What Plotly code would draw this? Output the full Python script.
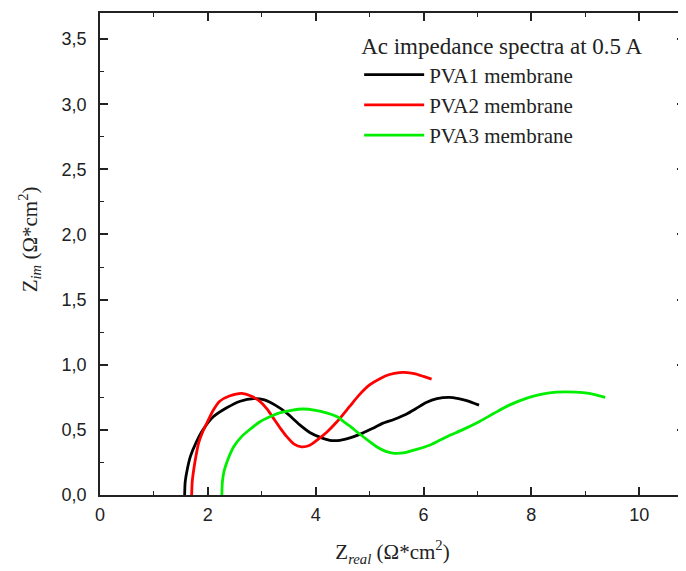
import plotly.graph_objects as go

pva1_x = [1.57, 1.58, 1.62, 1.68, 1.78, 1.91, 2.1, 2.35, 2.6, 2.85, 3.05, 3.25, 3.46, 3.7, 3.89, 4.1, 4.26, 4.45, 4.65, 4.87, 5.05, 5.24, 5.45, 5.68, 5.85, 6.05, 6.25, 6.48, 6.65, 6.8, 7.03]
pva1_y = [0, 0.1, 0.2, 0.3, 0.4, 0.5, 0.6, 0.67, 0.72, 0.74, 0.73, 0.69, 0.63, 0.54, 0.48, 0.44, 0.42, 0.42, 0.44, 0.475, 0.51, 0.55, 0.58, 0.62, 0.66, 0.71, 0.74, 0.75, 0.74, 0.725, 0.69]

pva2_x = [1.70, 1.71, 1.74, 1.78, 1.83, 1.9, 1.98, 2.1, 2.22, 2.4, 2.63, 2.8, 2.96, 3.1, 3.2, 3.35, 3.46, 3.6, 3.74, 3.88, 4.02, 4.2, 4.39, 4.63, 4.8, 5.0, 5.2, 5.37, 5.55, 5.7, 5.85, 6.0, 6.15]
pva2_y = [0, 0.1, 0.2, 0.3, 0.4, 0.48, 0.55, 0.65, 0.72, 0.76, 0.78, 0.76, 0.72, 0.66, 0.6, 0.51, 0.45, 0.39, 0.37, 0.38, 0.42, 0.48, 0.56, 0.68, 0.765, 0.845, 0.895, 0.925, 0.94, 0.94, 0.93, 0.91, 0.89]

pva3_x = [2.26, 2.27, 2.30, 2.37, 2.48, 2.63, 2.8, 2.96, 3.15, 3.33, 3.55, 3.76, 4.0, 4.2, 4.4, 4.5, 4.63, 4.81, 5.0, 5.13, 5.3, 5.46, 5.65, 5.87, 6.1, 6.3, 6.5, 6.72, 7.04, 7.3, 7.59, 7.96, 8.2, 8.46, 8.83, 9.07, 9.37]
pva3_y = [0, 0.1, 0.18, 0.27, 0.37, 0.45, 0.51, 0.56, 0.6, 0.63, 0.65, 0.66, 0.65, 0.63, 0.6, 0.57, 0.53, 0.47, 0.41, 0.37, 0.335, 0.32, 0.325, 0.35, 0.38, 0.42, 0.46, 0.5, 0.565, 0.625, 0.69, 0.75, 0.775, 0.79, 0.79, 0.78, 0.75]

series_names = ["PVA1 membrane", "PVA2 membrane", "PVA3 membrane"]
series_colors = ["#000000", "#ff0000", "#00ee00"]
x_tick_vals = [0, 2, 4, 6, 8, 10]
y_tick_vals = [0.0, 0.5, 1.0, 1.5, 2.0, 2.5, 3.0, 3.5]

SERIF = "Liberation Serif"
SANS = "Liberation Sans"

fig = go.Figure()
for xs, ys, name, color in zip([pva1_x, pva2_x, pva3_x], [pva1_y, pva2_y, pva3_y], series_names, series_colors):
    fig.add_trace(go.Scatter(x=xs, y=ys, mode="lines", name=name,
                             line=dict(color=color, width=2.8, shape="spline", smoothing=0.7)))

axis_common = dict(
    showline=True, linecolor="#222", linewidth=1.6, mirror="ticks",
    ticks="inside", ticklen=8, tickwidth=1.5, tickcolor="#222",
    showgrid=False, zeroline=False, automargin=False,
    tickfont=dict(family=SANS, size=18, color="#222"),
)

fig.update_xaxes(range=[0, 10.85], tickvals=x_tick_vals,
                 minor=dict(ticks="inside", ticklen=4, tickwidth=1.2, tickcolor="#222", dtick=1),
                 title=dict(text="Z<sub><i>real</i></sub> (Ω*cm<sup>2</sup>)",
                            font=dict(family=SERIF, size=21, color="#222"),
                            standoff=20),
                 ticklabelstandoff=3,
                 **axis_common)
fig.update_yaxes(range=[0, 3.7], tickvals=y_tick_vals, tickformat=".1f",
                 minor=dict(ticks="inside", ticklen=4, tickwidth=1.2, tickcolor="#222", dtick=0.25),
                 ticklabelstandoff=8,
                 **axis_common)

fig.add_annotation(
    text="Z<sub><i>im</i></sub> (Ω*cm<sup>2</sup>)",
    xref="paper", yref="paper", x=-0.12, y=0.53,
    xanchor="center", yanchor="middle", textangle=-90, showarrow=False,
    font=dict(family=SERIF, size=21, color="#222"),
)

fig.update_layout(
    width=678, height=563,
    margin=dict(l=92, r=1, t=5, b=76),
    plot_bgcolor="white", paper_bgcolor="white",
    separators=", ",
    legend=dict(
        title=dict(text="Ac impedance spectra at 0.5 A",
                   font=dict(family=SERIF, size=23, color="#222")),
        font=dict(family=SERIF, size=21, color="#222"),
        x=0.443, y=0.976, xanchor="left", yanchor="top",
        bgcolor="rgba(0,0,0,0)", tracegroupgap=0, itemwidth=60,
    ),
)

fig.write_html("out.html")
